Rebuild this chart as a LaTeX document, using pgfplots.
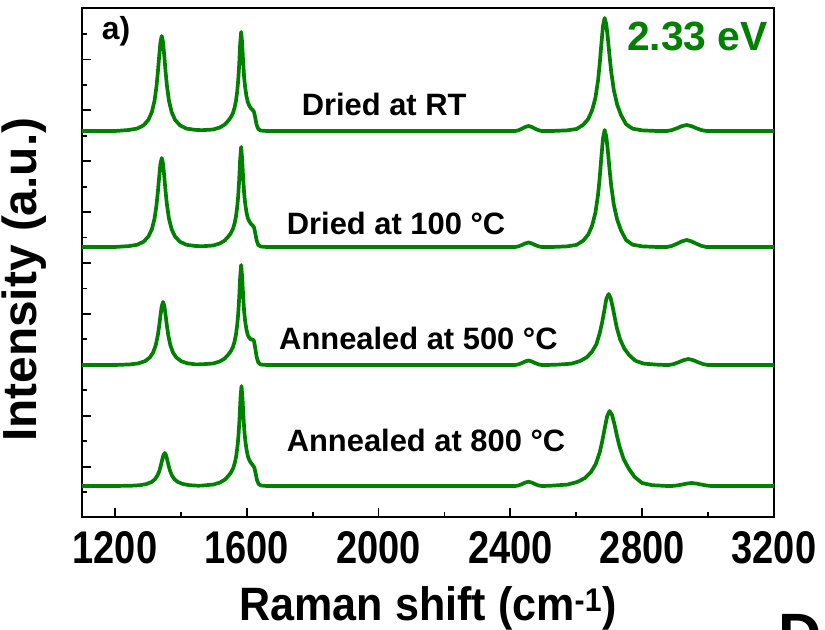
\documentclass[border=0pt]{standalone}
\usepackage{fontspec}
\setmainfont{Liberation Sans}
\newfontfamily\ticksans[FakeStretch=0.83]{Liberation Sans}
\newfontfamily\labelsans[FakeStretch=0.92]{Liberation Sans}
\usepackage{pgfplots}
\pgfplotsset{compat=1.18}
\definecolor{spec}{RGB}{0,128,0}

\begin{document}
\begin{tikzpicture}
\begin{axis}[
  scale only axis, width=692bp, height=509bp,
  xmin=1100, xmax=3200, ymin=0, ymax=509,
  axis line style={line width=2.2bp},
  tick pos=left, tick align=inside,
  xtick={1200,1600,...,3200}, minor x tick num=1,
  ytick={50.3,101.2,152.1,203,253.9,304.8,355.7,406.6,457.5},
  minor ytick={24.9,75.8,126.7,177.6,228.5,279.4,330.3,381.2,432.1,483},
  yticklabels={},
  major tick length=9bp, minor tick length=5bp,
  every tick/.style={black, line width=1.8bp},
  /pgf/number format/assume math mode=true,
  xticklabel style={font=\ticksans\bfseries\fontsize{46}{46}\selectfont,
    /pgf/number format/1000 sep={}, inner sep=0pt, yshift=-14bp},
  xlabel={Raman shift (cm\textsuperscript{-1})},
  ylabel={Intensity (a.u.)},
  every axis x label/.style={at={(axis description cs:0.5,0)}, anchor=base,
    yshift=-103bp, inner sep=0pt, font=\labelsans\bfseries\fontsize{47}{47}\selectfont},
  every axis y label/.style={at={(axis description cs:-0.083,0.466)}, rotate=90,
    anchor=center, inner sep=0pt, font=\bfseries\fontsize{48}{48}\selectfont},
  spectrum/.style={color=spec, line width=3.7bp, line join=round, mark=none},
]
% Dried at RT
\addplot[spectrum] coordinates {
(1100,386) (1200,386) (1242,387) (1267,388.4) (1287,391.7) (1302,397.4) (1312,405)
(1320,416.1) (1326,430.5) (1330,444) (1334,460) (1338,474.7) (1342,481) (1346,474.7)
(1350,460) (1354,444) (1358,430.5) (1364,416.1) (1372,405) (1382,397.4) (1397,391.7)
(1417,388.4) (1442,387.2) (1463,386.8) (1498,387.5) (1518,389.5) (1533,392.4)
(1543,395.9) (1551,399.4) (1558,403.8) (1563,409.3) (1567,415.7) (1571,425.6)
(1574,436.5) (1577,452.3) (1580,473.1) (1583,485) (1586,474) (1589,455) (1592,440)
(1595,430) (1599,421) (1603,415) (1608,411) (1613,408.5) (1618,407) (1622,405)
(1626,399) (1630,392) (1635,388) (1642,386.5) (1660,386) (1800,386) (2000,386)
(2200,386) (2415,386) (2425,386.8) (2435,388.3) (2445,390) (2455,391) (2465,390)
(2475,388.3) (2485,386.8) (2495,386) (2526,386) (2571,386.6) (2601,388) (2621,392.2)
(2636,397.9) (2648,406.7) (2658,419) (2666,436.5) (2671,452.7) (2676,472.3)
(2681,490.9) (2686,499) (2691,492.9) (2696,478.1) (2701,460.8) (2706,445.2)
(2714,426.7) (2724,412.4) (2736,401.8) (2751,392.8) (2771,388.3) (2801,386.6)
(2846,386) (2875,386) (2890,386.9) (2905,388.7) (2920,390.8) (2935,392) (2950,390.8)
(2965,388.7) (2980,386.9) (2995,386) (3100,386) (3200,386)
};
% Dried at 100 C
\addplot[spectrum] coordinates {
(1100,270) (1200,270) (1242,270.9) (1267,272.2) (1287,275.3) (1302,280.7) (1312,287.8)
(1320,298.2) (1326,311.7) (1330,324.3) (1334,339.3) (1338,353.1) (1342,359)
(1346,353.1) (1350,339.3) (1354,324.3) (1358,311.7) (1364,298.2) (1372,287.8)
(1382,280.7) (1397,275.3) (1417,272.2) (1442,271.1) (1463,270.7) (1498,271.5)
(1518,273.5) (1533,276.5) (1543,280) (1551,283.5) (1558,288) (1563,293.5) (1567,300)
(1571,310) (1574,321) (1577,337) (1580,358) (1583,370) (1586,358) (1589,339)
(1592,324) (1595,314) (1599,305) (1603,299) (1608,295.5) (1613,293) (1618,291.5)
(1622,289.5) (1626,283.5) (1630,276.5) (1635,272) (1642,270.5) (1660,270)
(1800,270) (2000,270) (2200,270) (2415,270) (2425,270.7) (2435,272) (2445,273.6)
(2455,274.5) (2465,273.6) (2475,272) (2485,270.7) (2495,270) (2526,270) (2571,270.6)
(2601,272.1) (2621,276.4) (2636,282.3) (2648,291.4) (2658,304.2) (2666,322.3)
(2671,339) (2676,359.4) (2681,378.6) (2686,387) (2691,380.7) (2696,365.4)
(2701,347.5) (2706,331.3) (2714,312.1) (2724,297.4) (2736,286.4) (2751,277)
(2771,272.3) (2801,270.6) (2846,270) (2875,270) (2890,271.1) (2905,273.2)
(2920,275.6) (2935,277) (2950,275.6) (2965,273.2) (2980,271.1) (2995,270)
(3100,270) (3200,270)
};
% Annealed at 500 C
\addplot[spectrum] coordinates {
(1100,152) (1200,152) (1246,152.6) (1271,153.6) (1291,155.8) (1306,159.6) (1316,164.6)
(1324,172) (1330,181.5) (1334,190.4) (1338,201.1) (1342,210.8) (1346,215) (1350,210.8)
(1354,201.1) (1358,190.4) (1362,181.5) (1368,172) (1376,164.6) (1386,159.6)
(1401,155.8) (1421,153.6) (1446,152.6) (1463,152.7) (1498,153.5) (1518,155.5)
(1533,158.5) (1543,162) (1551,165.5) (1558,170) (1563,175.5) (1567,182) (1571,192)
(1574,203) (1577,219) (1580,240) (1583,252) (1586,240) (1589,221) (1592,206)
(1595,196) (1599,187.5) (1603,182) (1608,179) (1613,177.5) (1618,177.5) (1622,176)
(1626,168.5) (1630,160) (1635,154.5) (1642,152.5) (1660,152) (1800,152) (2000,152)
(2200,152) (2415,152) (2425,152.7) (2435,154) (2445,155.6) (2455,156.5) (2465,155.6)
(2475,154) (2485,152.7) (2495,152) (2510,152) (2545,152.4) (2585,153.3) (2611,155.9)
(2631,159.5) (2647,165) (2661,172.7) (2671,183.7) (2678,193.9) (2685,206.2)
(2691,217.9) (2698,223) (2704,219.2) (2710.5,209.9) (2717,199) (2723,189.2)
(2733,177.6) (2745.5,168.6) (2760.5,161.9) (2779,156.3) (2804,153.4) (2842,152.4)
(2870,152) (2880,152) (2895,152.9) (2910,154.7) (2925,156.8) (2940,158) (2955,156.8)
(2970,154.7) (2985,152.9) (3000,152) (3100,152) (3200,152)
};
% Annealed at 800 C
\addplot[spectrum] coordinates {
(1100,31) (1200,31) (1251,31.3) (1276,31.8) (1296,33) (1311,35) (1321,37.6)
(1329,41.5) (1335,46.4) (1339,51.1) (1343,56.7) (1347,61.8) (1351,64) (1355,61.8)
(1359,56.7) (1363,51.1) (1367,46.4) (1373,41.5) (1381,37.6) (1391,35) (1406,33)
(1426,31.8) (1451,31.3) (1464,31.4) (1499,32.5) (1519,34.5) (1534,37.5) (1544,41)
(1552,44.5) (1559,49) (1564,54.5) (1568,61) (1572,71) (1575,82) (1578,98) (1581,119)
(1584,131) (1587,119) (1590,100) (1593,85) (1596,75) (1600,66) (1604,60) (1609,56)
(1614,53.5) (1619,51.5) (1623,49.5) (1627,43.5) (1631,37) (1636,33) (1643,31.5)
(1661,31) (1800,31) (2000,31) (2200,31) (2415,31) (2425,31.6) (2435,32.9)
(2445,34.4) (2455,35.3) (2465,34.4) (2475,32.9) (2485,31.6) (2495,31) (2500,31)
(2528.5,31.4) (2573.5,32.4) (2603.5,35.1) (2626,38.9) (2644,44.7) (2659,52.9)
(2671,64.5) (2678.5,75.3) (2686,88.3) (2693.5,100.6) (2701,106) (2708.6,102)
(2716.2,92.1) (2723.8,80.7) (2731.4,70.3) (2743.6,58) (2758.8,48.6) (2777,40)
(2799.8,34) (2830,31.8) (2876,31) (2890,31) (2905,31.5) (2920,32.4) (2935,33.4)
(2950,34) (2965,33.4) (2980,32.4) (2995,31.5) (3010,31) (3100,31) (3200,31)
};
\node[anchor=base, inner sep=0pt, font=\bfseries\fontsize{31}{31}\selectfont]
  at (axis cs:2017,401) {Dried at RT};
\node[anchor=base, inner sep=0pt, font=\bfseries\fontsize{31}{31}\selectfont]
  at (axis cs:2053,282) {Dried at 100 °C};
\node[anchor=base, inner sep=0pt, font=\bfseries\fontsize{31}{31}\selectfont]
  at (axis cs:2121,167.7) {Annealed at 500 °C};
\node[anchor=base, inner sep=0pt, font=\bfseries\fontsize{31}{31}\selectfont]
  at (axis cs:2144,65.3) {Annealed at 800 °C};
\node[anchor=base east, inner sep=0pt, text=spec, font=\bfseries\fontsize{41}{41}\selectfont]
  at (axis cs:3182,466.3) {2.33 eV};
\node[anchor=base west, inner sep=0pt, font=\bfseries\fontsize{32}{32}\selectfont]
  at (axis cs:1160,477) {a)};
\end{axis}
\node[anchor=north west, inner sep=0pt, font=\bfseries\fontsize{60}{60}\selectfont]
  at ([shift={(696bp,-97bp)}]current axis.south west) {D};
\pgfresetboundingbox
\useasboundingbox ([shift={(-82bp,-113bp)}]current axis.south west) rectangle ++(825bp,630bp);
\end{tikzpicture}
\end{document}
